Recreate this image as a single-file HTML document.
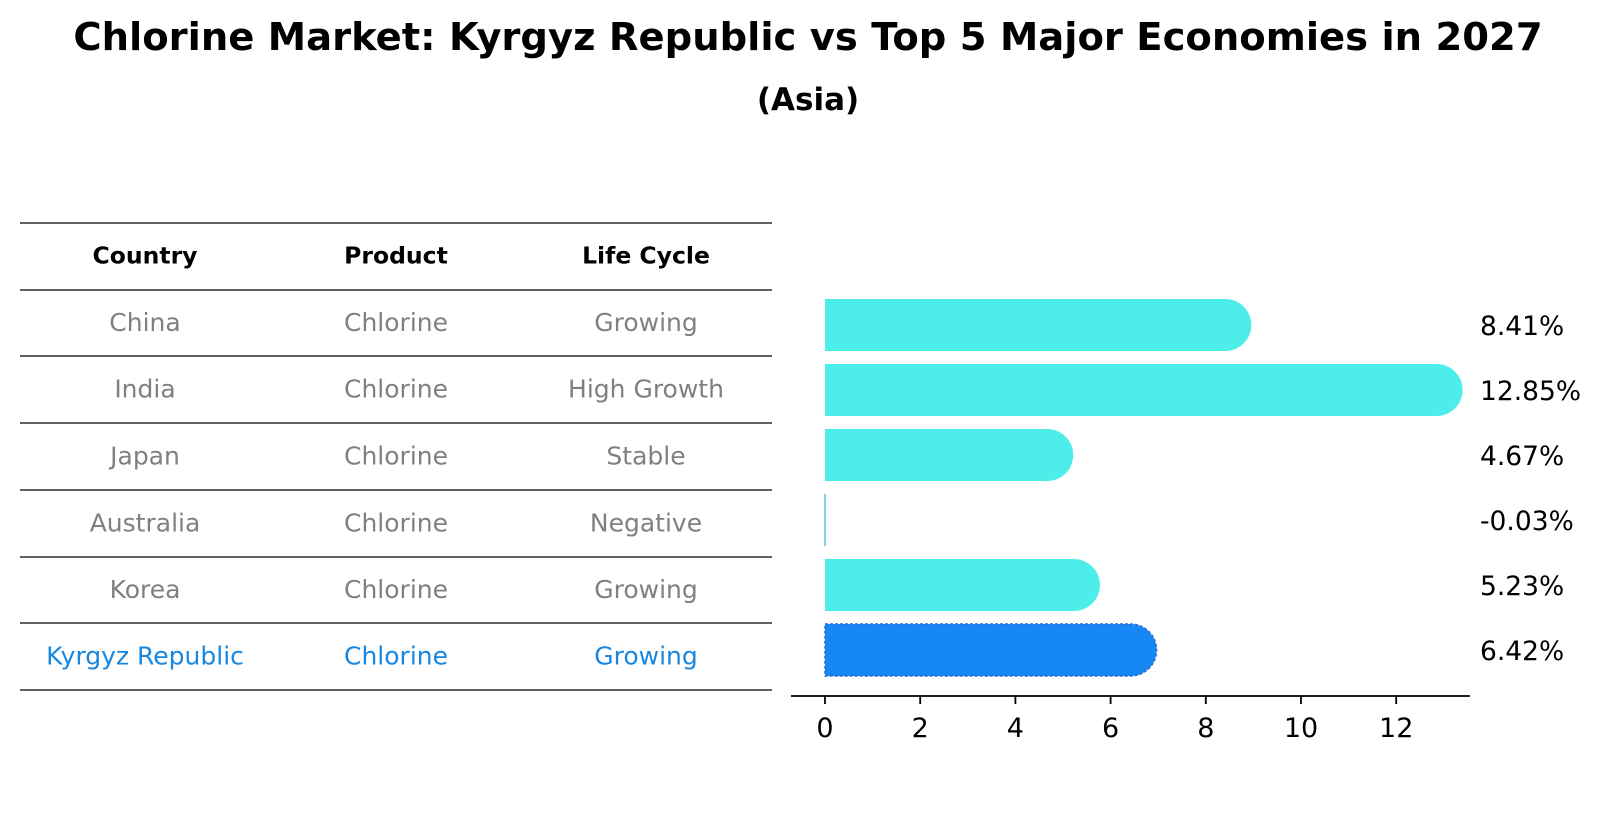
<!DOCTYPE html>
<html><head><meta charset="utf-8"><style>
body{margin:0;background:#fff;}
svg{display:block;font-family:"DejaVu Sans","Liberation Sans",sans-serif;}
</style></head><body>
<svg width="1604" height="823" viewBox="0 0 1604 823">
<text x="808" y="50" text-anchor="middle" font-size="38.5" font-weight="bold">Chlorine Market: Kyrgyz Republic vs Top 5 Major Economies in 2027</text>
<text x="808" y="110" text-anchor="middle" font-size="31" font-weight="bold">(Asia)</text>
<g id="table"></g>
<g id="bars"></g>
<g id="axis"></g>
</svg>
<script>
const countries=["China","India","Japan","Australia","Korea","Kyrgyz Republic"];
const products=["Chlorine","Chlorine","Chlorine","Chlorine","Chlorine","Chlorine"];
const lifeCycles=["Growing","High Growth","Stable","Negative","Growing","Growing"];
const values=[8.41,12.85,4.67,-0.03,5.23,6.42];
const valueLabels=["8.41%","12.85%","4.67%","-0.03%","5.23%","6.42%"];
const ticks=[0,2,4,6,8,10,12];
const NS="http://www.w3.org/2000/svg";
function mk(t,a,p){const e=document.createElementNS(NS,t);for(const k in a)e.setAttribute(k,a[k]);p.appendChild(e);return e;}
const x=v=>825+v*47.6;
const rowY=i=>325+i*65;
const barH=52;
const tbl=document.getElementById('table'),bars=document.getElementById('bars'),ax=document.getElementById('axis');
const lineYs=[223,290,356,423,490,557,623,690];
lineYs.forEach(y=>{const l=mk('line',{x1:20,x2:772,y1:y,y2:y,stroke:'#000','stroke-width':1.2},tbl);

});
const colX=[145,396,646];
["Country","Product","Life Cycle"].forEach((h,j)=>{const t=mk('text',{x:colX[j],y:(lineYs[0]+lineYs[1])/2+7,'text-anchor':'middle','font-size':23.5,'font-weight':'bold'},tbl);t.textContent=h;

});
countries.forEach((c,i)=>{const hl=i===countries.length-1;const col=hl?'#1787e0':'#808080';
[c,products[i],lifeCycles[i]].forEach((v,j)=>{const t=mk('text',{x:colX[j],y:(lineYs[i+1]+lineYs[i+2])/2+8,'text-anchor':'middle','font-size':25,fill:col},tbl);t.textContent=v;

});});
values.forEach((v,i)=>{const hl=i===values.length-1;const cy=rowY(i);const y0=cy-barH/2;
let el;
if(v<=0.05){el=mk('rect',{x:x(0)-1,y:y0,width:2,height:barH,fill:'#87cefa'},bars);}
else{const x0=x(0),x1=x(v),r=barH/2;
el=mk('path',{d:`M${x0},${y0} H${x1} A${r},${r} 0 0 1 ${x1},${y0+barH} H${x0} Z`,fill:hl?'#1787f5':'#4deeea',stroke:hl?'#2a6fd0':'none','stroke-width':hl?1.5:0,'stroke-dasharray':hl?'3,2':''},bars);}


const t=mk('text',{x:1480,y:cy+10,'font-size':26.5},bars);t.textContent=valueLabels[i];

});
const al=mk('line',{x1:791,x2:1470,y1:696,y2:696,stroke:'#000','stroke-width':1.8},ax);


ticks.forEach(tk=>{const l=mk('line',{x1:x(tk),x2:x(tk),y1:696,y2:704,stroke:'#000','stroke-width':1.8},ax);


const t=mk('text',{x:x(tk),y:737,'text-anchor':'middle','font-size':27},ax);t.textContent=tk;

});
</script>
</body></html>
